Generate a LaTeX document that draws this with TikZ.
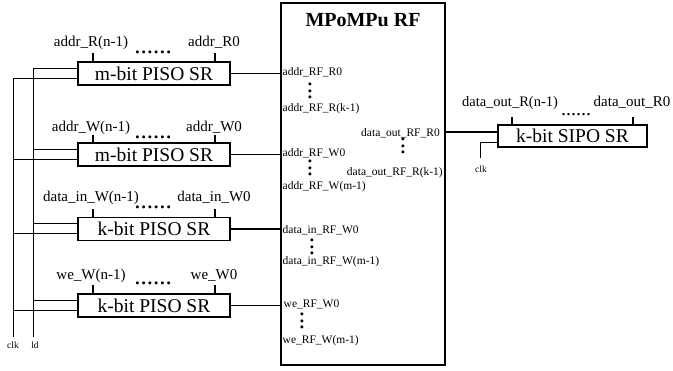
\documentclass[tikz,border=0pt]{standalone}
\usepackage{fontspec}
\setmainfont{Liberation Serif}
\usetikzlibrary{calc}
\tikzset{
  srbox/.style={draw, line width=1.6pt, minimum width=152pt, minimum height=23pt, inner sep=0pt, font=\fontsize{19.5}{20}\selectfont},
  toplbl/.style={font=\fontsize{15}{15}\selectfont, inner sep=0pt, anchor=base},
  pinlbl/.style={font=\fontsize{11.5}{12}\selectfont, inner sep=0pt},
  hdots/.style={font=\fontsize{25}{25}\selectfont, inner sep=0pt},
  vdots/.style={hdots, rotate=90},
  wire/.style={line width=1.6pt},
  tickln/.style={line width=1.4pt},
  ctl/.style={line width=1pt},
  small/.style={font=\fontsize{9.5}{10}\selectfont, inner sep=0pt},
}
\begin{document}
\begin{tikzpicture}[x=1pt,y=-1pt]
\useasboundingbox (0,0) rectangle (673,371);

% main block
\node[draw, line width=1.6pt, minimum width=164pt, minimum height=362pt, inner sep=0pt] (main) at (363,184) {};
\node[font=\bfseries\fontsize{20}{20}\selectfont, inner sep=0pt] (title) at (363,20) {MPoMPu RF};

% shift registers
\node[srbox] (b1) at (154,73.5) {m-bit PISO SR};
\node[srbox] (b2) at (154,154.5) {m-bit PISO SR};
\node[srbox] (b3) at (154,229) {k-bit PISO SR};
\node[srbox] (b4) at (154,305.5) {k-bit PISO SR};
\node[srbox, minimum width=149pt, minimum height=22pt] (so) at (572.5,136) {k-bit SIPO SR};

% top labels and ticks
\foreach \b/\la/\lb/\ty/\by/\dy in {b1/addr\_R(n-1)/addr\_R0/53/47/52,
                                   b2/addr\_W(n-1)/addr\_W0/135/132/137,
                                   b3/data\_in\_W(n-1)/data\_in\_W0/209/202/207,
                                   b4/we\_W(n-1)/we\_W0/285/280/283}{
  \coordinate (\b ta) at (93,\ty);
  \coordinate (\b tb) at (215,\ty);
  \draw[tickln] (\b ta) -- (\b ta |- \b.north);
  \draw[tickln] (\b tb) -- (\b tb |- \b.north);
  \node[toplbl] (\b la) at (91,\by) {\la};
  \node[toplbl] (\b lb) at (214,\by) {\lb};
  \node[hdots] (\b dots) at (153,\dy) {......};
  \draw[wire] (\b.east) -- (\b.east -| main.west);
}

% SIPO labels
\coordinate (sota) at (512,117);
\coordinate (sotb) at (633,117);
\draw[tickln] (sota) -- (sota |- so.north);
\draw[tickln] (sotb) -- (sotb |- so.north);
\node[toplbl, font=\fontsize{14.5}{15}\selectfont] (sola) at (510,107) {data\_out\_R(n-1)};
\node[toplbl] (solb) at (632,107) {data\_out\_R0};
\node[hdots, font=\fontsize{20}{20}\selectfont] (sodots) at (576,114.5) {......};
\coordinate (soin) at ($(so.west)+(0,-4)$);
\draw[wire] (soin -| main.east) -- (soin);
\coordinate (soclk) at ($(so.west)+(0,7)$);
\coordinate (soclkend) at (480,158);
\draw[ctl] (soclk) -| (soclkend);
\node[small] (soclklbl) at (481,169) {clk};

% clk / ld lines
\coordinate (clkbot) at (13,337);
\coordinate (ldbot) at (33,337);
\node[small] (clklbl) at (13,345) {clk};
\node[small] (ldlbl) at (35,345) {ld};
\coordinate (ck1) at ($(b1.west)+(0,5)$);
\coordinate (ld1) at ($(b1.west)+(0,-5)$);
\draw[ctl] (ck1) -| (clkbot);
\draw[ctl] (ld1) -| (ldbot);
\foreach \b in {b2,b3,b4}{
  \coordinate (ck\b) at ($(\b.west)+(0,5)$);
  \coordinate (ld\b) at ($(\b.west)+(0,-5)$);
  \draw[ctl] (ck\b) -- (ck\b -| clkbot);
  \draw[ctl] (ld\b) -- (ld\b -| ldbot);
}

% pin labels inside main block
\node[pinlbl, anchor=base west] (p1) at (282.5,76) {addr\_RF\_R0};
\node[vdots] (p1d) at (310,91) {...};
\node[pinlbl, anchor=base west] (p2) at (282.5,112) {addr\_RF\_R(k-1)};
\node[pinlbl, anchor=base west] (p3) at (282.5,157) {addr\_RF\_W0};
\node[vdots] (p3d) at (310,168) {...};
\node[pinlbl, anchor=base west] (p4) at (282.5,190) {addr\_RF\_W(m-1)};
\node[pinlbl, anchor=base west] (p5) at (282.5,234) {data\_in\_RF\_W0};
\node[vdots] (p5d) at (312,247) {...};
\node[pinlbl, anchor=base west] (p6) at (282.5,265) {data\_in\_RF\_W(m-1)};
\node[pinlbl, anchor=base west] (p7) at (283.5,308) {we\_RF\_W0};
\node[vdots] (p7d) at (302,321) {...};
\node[pinlbl, anchor=base west] (p8) at (282.5,344) {we\_RF\_W(m-1)};
\node[pinlbl, anchor=base east] (q1) at (440,137) {data\_out\_RF\_R0};
\node[vdots] (q1d) at (403,146) {...};
\node[pinlbl, anchor=base east] (q2) at (443,176) {data\_out\_RF\_R(k-1)};
\end{tikzpicture}
\end{document}
